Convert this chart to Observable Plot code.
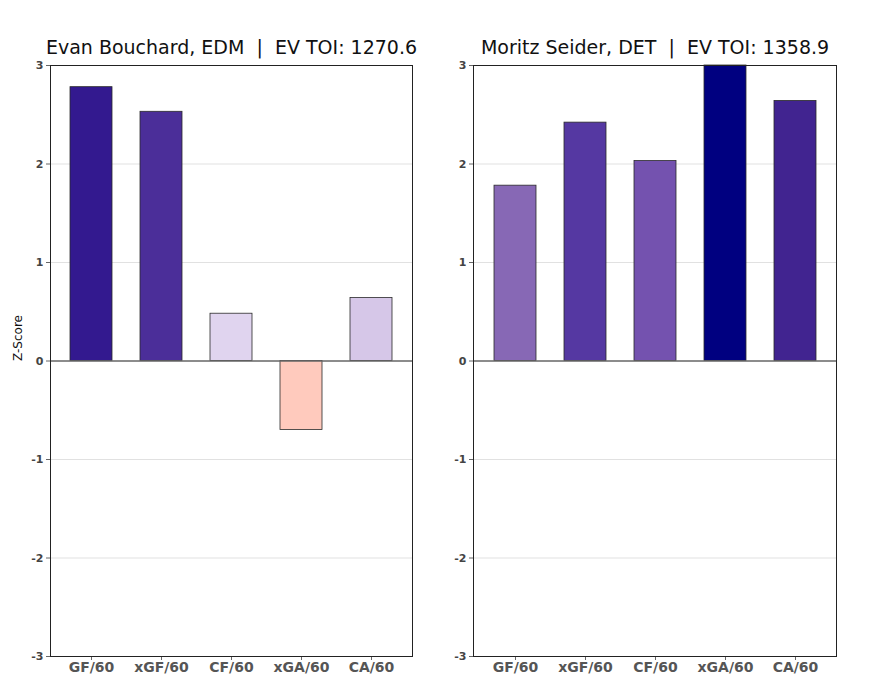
<!DOCTYPE html>
<html>
<head>
<meta charset="utf-8">
<script src="https://cdn.jsdelivr.net/npm/d3@7"></script>
<script src="https://cdn.jsdelivr.net/npm/@observablehq/plot@0.6"></script>
<style>
  body { margin: 0; background: #fff; }
  #wrap { display: flex; flex-direction: row; width: 878px; height: 688px; }
  svg { font-family: "DejaVu Sans", sans-serif; }
</style>
</head>
<body>
<div id="wrap"></div>
<script>
const metrics = ["GF/60", "xGF/60", "CF/60", "xGA/60", "CA/60"];
const yTicks = [-3, -2, -1, 0, 1, 2, 3];

const player1 = "Evan Bouchard, EDM  |  EV TOI: 1270.6";
const values1 = [2.78, 2.53, 0.48, -0.70, 0.64];

const player2 = "Moritz Seider, DET  |  EV TOI: 1358.9";
const values2 = [1.78, 2.42, 2.03, 3.35, 2.64];

// colour map stops (z-score -> colour)
const colorStops = [-3, -0.7, 0, 0.48, 0.64, 1.78, 2.03, 2.42, 2.64, 2.78, 3];
const colorRange = ["#e8503a", "#ffcabd", "#f4eef8", "#e0d4ef", "#d6c7e8", "#8768b5", "#7452af", "#5538a2", "#412490", "#33198f", "#000080"];

function panel(title, values, opts) {
  const data = metrics.map((m, i) => ({metric: m, z: values[i]}));
  return Plot.plot({
    width: opts.width,
    height: 688,
    marginTop: 65,
    marginBottom: 32,
    marginLeft: opts.ml,
    marginRight: opts.mr,
    style: {fontFamily: "'DejaVu Sans', sans-serif", background: "#fff"},
    x: {domain: metrics, paddingInner: 0.4, paddingOuter: 0.28, label: null},
    y: {domain: [-3, 3], clamp: true, label: null},
    color: {type: "linear", domain: colorStops, range: colorRange, clamp: true},
    marks: [
      Plot.gridY(yTicks.filter(d => d !== 0 && Math.abs(d) !== 3), {stroke: "#d9d9d9", strokeOpacity: 1, strokeWidth: 0.8}),
      Plot.barY(data, {x: "metric", y: "z", fill: d => d.z, stroke: "#2a2a2a", strokeWidth: 0.8}),
      Plot.ruleY([0], {stroke: "#666", strokeWidth: 1.5}),
      Plot.axisY(yTicks, {tickSize: 4, tickPadding: 3, stroke: "#666", fill: "#444", fontWeight: "bold", fontSize: 11, label: null, tickFormat: d => d < 0 ? "-" + Math.abs(d) : String(d)}),
      Plot.axisX({tickSize: 4, tickPadding: 2, stroke: "#666", fill: "#555", fontWeight: "bold", fontSize: 14, label: null}),
      Plot.frame({stroke: "#222", strokeWidth: 1}),
      Plot.text([title], {frameAnchor: "top", dy: -25, fontSize: 19, fill: "#111", text: d => d}),
      ...(opts.ylabel ? [Plot.text(["Z-Score"], {frameAnchor: "left", dx: -32, rotate: -90, fontSize: 12, fill: "#111", text: d => d})] : [])
    ]
  });
}

const wrap = document.getElementById("wrap");
wrap.append(panel(player1, values1, {width: 440, ml: 50, mr: 28, ylabel: true}));
wrap.append(panel(player2, values2, {width: 438, ml: 33, mr: 42, ylabel: false}));
</script>
</body>
</html>
